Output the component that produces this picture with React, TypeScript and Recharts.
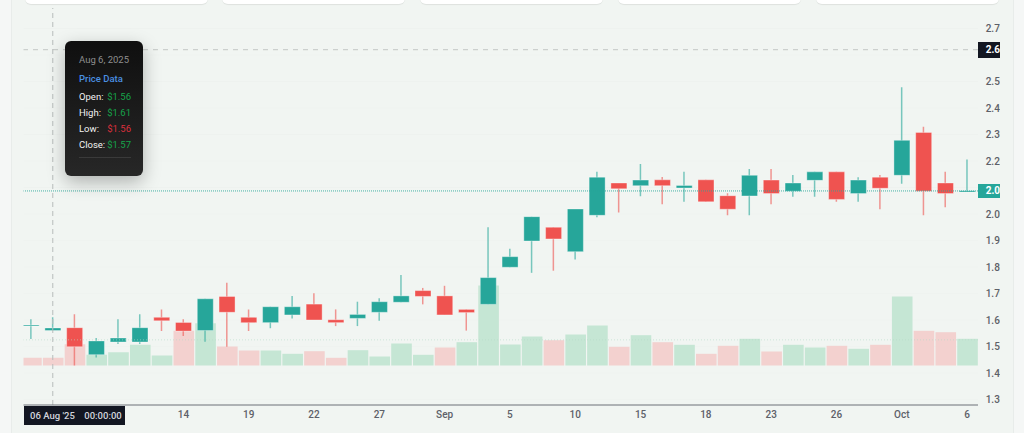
import { Bar, CartesianGrid, Cell, ComposedChart, ReferenceLine, XAxis, YAxis } from "recharts";

const opens = [1.577, 1.56, 1.571, 1.469, 1.517, 1.517, 1.61, 1.591, 1.56, 1.689, 1.61, 1.59, 1.619, 1.66, 1.601, 1.606, 1.629, 1.667, 1.711, 1.691, 1.64, 1.659, 1.799, 1.898, 1.95, 1.858, 1.995, 2.117, 2.107, 2.129, 2.098, 2.129, 2.069, 2.068, 2.128, 2.086, 2.127, 2.159, 2.077, 2.139, 2.146, 2.308, 2.117, 2.083];
const highs = [1.603, 1.61, 1.622, 1.532, 1.603, 1.622, 1.64, 1.603, 1.68, 1.741, 1.64, 1.65, 1.691, 1.701, 1.64, 1.669, 1.682, 1.77, 1.721, 1.729, 1.64, 1.95, 1.869, 1.99, 1.95, 2.019, 2.159, 2.117, 2.189, 2.14, 2.159, 2.129, 2.078, 2.17, 2.17, 2.147, 2.159, 2.159, 2.139, 2.147, 2.478, 2.329, 2.159, 2.206];
const lows = [1.528, 1.56, 1.428, 1.458, 1.509, 1.509, 1.558, 1.54, 1.518, 1.499, 1.558, 1.569, 1.606, 1.6, 1.577, 1.577, 1.597, 1.667, 1.659, 1.619, 1.56, 1.659, 1.799, 1.778, 1.786, 1.828, 1.988, 2.006, 2.067, 2.037, 2.046, 2.046, 1.995, 1.995, 2.037, 2.065, 2.065, 2.046, 2.046, 2.018, 2.114, 1.995, 2.025, 2.083];
const closes = [1.581, 1.57, 1.499, 1.521, 1.532, 1.571, 1.597, 1.558, 1.68, 1.629, 1.59, 1.65, 1.65, 1.6, 1.59, 1.621, 1.669, 1.691, 1.689, 1.619, 1.628, 1.76, 1.839, 1.99, 1.906, 2.019, 2.139, 2.095, 2.128, 2.107, 2.108, 2.046, 2.018, 2.146, 2.077, 2.117, 2.159, 2.055, 2.128, 2.097, 2.278, 2.086, 2.077, 2.088];
const volumes = [0.77, 0.77, 2.13, 1.07, 1.33, 2.07, 1.0, 3.47, 4.23, 1.9, 1.5, 1.5, 1.17, 1.43, 0.77, 1.53, 0.9, 2.2, 1.07, 1.8, 2.33, 8.0, 2.1, 2.9, 2.53, 3.1, 4.0, 1.87, 3.03, 2.33, 2.07, 1.17, 1.97, 2.67, 1.4, 2.07, 1.8, 1.97, 1.67, 2.07, 6.9, 3.47, 3.33, 2.67];
const volumeRising = [false, false, false, true, true, true, true, false, true, false, false, true, true, false, false, true, true, true, true, false, true, true, true, true, false, true, true, false, true, false, true, false, false, true, false, true, true, false, true, false, true, false, false, true];
// 2.10 and 2.60 sit under the price tags, so they only get a grid line
const priceTicks = [1.3, 1.4, 1.5, 1.6, 1.7, 1.8, 1.9, 2.0, 2.2, 2.3, 2.4, 2.5, 2.7];
const gridPrices = [1.3, 1.4, 1.5, 1.6, 1.7, 1.8, 1.9, 2.0, 2.1, 2.2, 2.3, 2.4, 2.5, 2.6, 2.7];
const dateTicks = [7, 10, 13, 16, 19, 22, 25, 28, 31, 34, 37, 40, 43];
const dateLabels = ["14", "19", "22", "27", "Sep", "5", "10", "15", "18", "23", "26", "Oct", "6"];
const tooltipRows = [
  ["Open:", "$1.56", "#16a34a"],
  ["High:", "$1.61", "#16a34a"],
  ["Low:", "$1.56", "#dc2f3c"],
  ["Close:", "$1.57", "#16a34a"],
];
const cards = [25, 222, 420, 618, 816];

const data = opens.map((open, i) => ({
  index: i,
  wick: [lows[i], highs[i]],
  body: [Math.min(open, closes[i]), Math.max(open, closes[i])],
  volume: volumes[i],
  up: closes[i] >= open,
  volumeUp: volumeRising[i],
}));

const TEAL = "#26a69a";
const RED = "#ef5350";
const xDomain: [number, number] = [-0.345, 43.5];
const priceDomain: [number, number] = [1.2792, 2.7774];
const font = "Roboto, 'Noto Sans', sans-serif";

export default function App() {
  return (
    <div style={{ position: "fixed", left: 0, top: 0, width: 1024, height: 433, overflow: "hidden", background: "#f1f5f2", fontFamily: font }}>
      <div style={{ position: "absolute", left: 0, top: 0, width: 11, height: 433, background: "#f5f7f6", borderRight: "1px solid #e8ecea" }} />
      <div style={{ position: "absolute", left: 1013, top: 0, width: 11, height: 433, background: "#f5f7f6", borderLeft: "1px solid #e8ecea" }} />
      {cards.map((x) => (
        <div key={x} style={{ position: "absolute", left: x, top: -20, width: 183, height: 24, background: "#fff", borderRadius: 6, boxShadow: "0 1px 1px rgba(0,0,0,0.08)" }} />
      ))}
      <div style={{ position: "absolute", left: 0, top: 0 }}>
        <ComposedChart width={1000} height={433} data={data} margin={{ top: 8, right: 0, bottom: 0, left: 23.5 }}>
          <CartesianGrid xAxisId="main" yAxisId="price" vertical={false} horizontalValues={gridPrices} stroke="rgba(0,0,0,0.012)" />
          <XAxis
            xAxisId="main"
            dataKey="index"
            type="number"
            domain={xDomain}
            allowDataOverflow
            ticks={dateTicks}
            interval={0}
            height={28}
            tickFormatter={(v: number) => dateLabels[dateTicks.indexOf(v)]}
            axisLine={{ stroke: "#6d7079", strokeWidth: 1 }}
            tickLine={false}
            tickSize={0}
            tickMargin={6}
            tick={{ fontSize: 10, fill: "#5d6068", fontWeight: 500, fontFamily: font }}
          />
          <XAxis xAxisId="wick" orientation="top" height={0} dataKey="index" type="number" domain={xDomain} allowDataOverflow hide />
          <XAxis xAxisId="body" orientation="top" height={0} dataKey="index" type="number" domain={xDomain} allowDataOverflow hide />
          <YAxis
            yAxisId="price"
            orientation="right"
            domain={priceDomain}
            allowDataOverflow
            ticks={priceTicks}
            interval={0}
            width={22}
            tickFormatter={(v: number) => v.toFixed(2)}
            axisLine={false}
            tickLine={false}
            tickSize={0}
            tickMargin={7.7}
            tick={{ fontSize: 10, fill: "#5d6068", fontWeight: 500, fontFamily: font }}
          />
          <YAxis yAxisId="volume" domain={[-3.95, 35.75]} allowDataOverflow hide />
          <Bar xAxisId="main" yAxisId="volume" dataKey="volume" barSize={20.6} isAnimationActive={false}>
            {data.map((d) => (
              <Cell key={d.index} fill={d.volumeUp ? "#c5e6d4" : "#f3d1cf"} />
            ))}
          </Bar>
          <ReferenceLine xAxisId="main" yAxisId="price" y={1.525} stroke="#b5dcc6" strokeOpacity={0.6} strokeDasharray="1 2" />
          <ReferenceLine xAxisId="main" yAxisId="price" y={2.087} stroke={TEAL} strokeOpacity={0.85} strokeDasharray="1 1" />
          <Bar xAxisId="wick" yAxisId="price" dataKey="wick" barSize={1.5} isAnimationActive={false}>
            {data.map((d) => (
              <Cell key={d.index} fill={d.up ? TEAL : RED} fillOpacity={0.6} />
            ))}
          </Bar>
          <Bar xAxisId="body" yAxisId="price" dataKey="body" barSize={16} stroke="rgba(255,255,255,0.35)" isAnimationActive={false}>
            {data.map((d) => (
              <Cell key={d.index} fill={d.up ? TEAL : RED} />
            ))}
          </Bar>
          <ReferenceLine xAxisId="main" yAxisId="price" y={2.62} stroke="#c3c7c5" strokeDasharray="5 5" />
          <ReferenceLine xAxisId="main" yAxisId="price" x={1} stroke="#b9bdbb" strokeDasharray="5 4" />
        </ComposedChart>
      </div>

      <div style={{ position: "absolute", left: 978, top: 41.5, width: 22, height: 16, paddingLeft: 7.7, boxSizing: "border-box", overflow: "hidden", background: "#131722", color: "#fff", fontSize: 10, fontWeight: 700, lineHeight: "16px" }}>2.62</div>
      <div style={{ position: "absolute", left: 978, top: 184, width: 22, height: 14, paddingLeft: 7.7, boxSizing: "border-box", overflow: "hidden", background: TEAL, color: "#fff", fontSize: 10, fontWeight: 700, lineHeight: "14px" }}>2.09</div>
      <div style={{ position: "absolute", left: 24, top: 405.5, width: 101, height: 19, background: "#131722", color: "#d1d4dc", fontSize: 9.5, fontWeight: 500, lineHeight: "19px", paddingLeft: 6, boxSizing: "border-box", whiteSpace: "pre" }}>{"06 Aug '25    00:00:00"}</div>

      <div style={{ position: "absolute", left: 65, top: 41, width: 78, height: 135, boxSizing: "border-box", padding: "12px 12px 0 14px", borderRadius: 6, background: "linear-gradient(#0f0f0f, #272727)", boxShadow: "0 6px 18px rgba(0,0,0,0.28)", fontSize: 9.5 }}>
        <div style={{ color: "#8f8f8f", lineHeight: "14px", whiteSpace: "nowrap" }}>Aug 6, 2025</div>
        <div style={{ color: "#4a90e2", lineHeight: "14px", marginTop: 5, fontWeight: 500 }}>Price Data</div>
        <div style={{ marginTop: 3 }}>
          {tooltipRows.map(([name, value, color]) => (
            <div key={name} style={{ display: "flex", justifyContent: "space-between", height: 16, lineHeight: "16px" }}>
              <span style={{ color: "#f2f2f2" }}>{name}</span>
              <span style={{ color }}>{value}</span>
            </div>
          ))}
        </div>
        <div style={{ marginTop: 4, borderTop: "1px solid #3a3a3a" }} />
      </div>
    </div>
  );
}
